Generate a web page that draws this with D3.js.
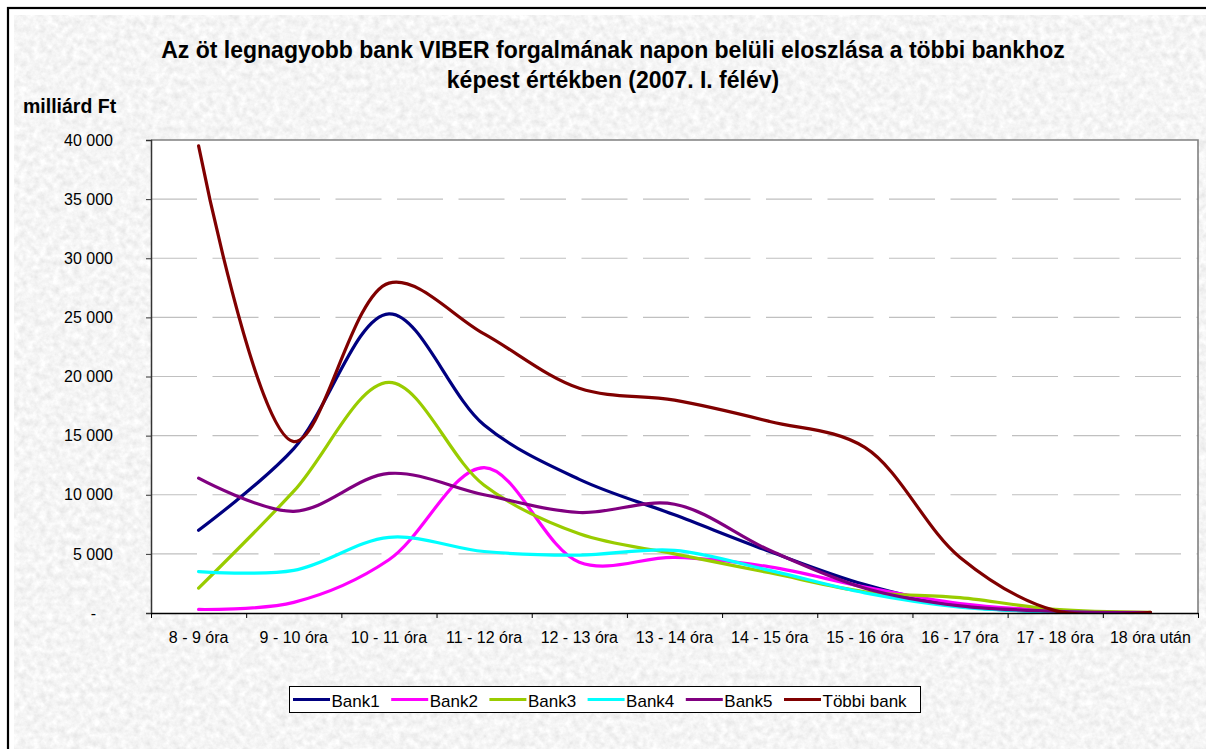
<!DOCTYPE html>
<html>
<head>
<meta charset="utf-8">
<script src="https://cdn.jsdelivr.net/npm/d3@7"></script>
<style>
  body { margin: 0; background: #fff; }
  svg { display: block; font-family: "Liberation Sans", Arial, sans-serif; }
</style>
</head>
<body>
<script>
// categories and series (milliárd Ft)
const categories = ["8 - 9 óra", "9 - 10 óra", "10 - 11 óra", "11 - 12 óra", "12 - 13 óra",
  "13 - 14 óra", "14 - 15 óra", "15 - 16 óra", "16 - 17 óra", "17 - 18 óra", "18 óra után"];
const bank1 = [7000, 13900, 25300, 15900, 11300, 8300, 5200, 2400, 600, 100, 30];
const bank2 = [300, 900, 4500, 12300, 4300, 4700, 3900, 2200, 800, 200, 40];
const bank3 = [2100, 10300, 19500, 10800, 6700, 5000, 3400, 1800, 1300, 300, 50];
const bank4 = [3500, 3600, 6400, 5200, 4900, 5300, 3600, 1700, 500, 100, 30];
const bank5 = [11400, 8600, 11800, 10000, 8500, 9200, 5300, 2100, 600, 150, 30];
const tobbi = [39500, 14500, 27900, 23600, 19000, 18000, 16200, 14000, 4700, 200, 50];
const yTicks = [0, 5000, 10000, 15000, 20000, 25000, 30000, 35000, 40000];

const series = [
  {name: "Bank1", color: "#000080", values: bank1},
  {name: "Bank2", color: "#ff00ff", values: bank2},
  {name: "Bank3", color: "#99cc00", values: bank3},
  {name: "Bank4", color: "#00ffff", values: bank4},
  {name: "Bank5", color: "#800080", values: bank5},
  {name: "Többi bank", color: "#800000", values: tobbi}
];

const W = 1206, H = 749;
const plot = {left: 151, right: 1198, top: 140, bottom: 613};

const svg = d3.select("body").append("svg")
    .attr("width", W)
    .attr("height", H);

// granite-like background
const defs = svg.append("defs");
const f = defs.append("filter").attr("id", "granite")
    .attr("x", 0).attr("y", 0).attr("width", "100%").attr("height", "100%");
f.append("feTurbulence").attr("type", "fractalNoise")
    .attr("baseFrequency", 0.15).attr("numOctaves", 4).attr("seed", 7);
f.append("feColorMatrix").attr("type", "matrix")
    .attr("values", "0.3 0 0 0 0.76  0.3 0 0 0 0.76  0.3 0 0 0 0.76  0 0 0 0 1");

defs.append("clipPath").attr("id", "plotclip")
  .append("rect")
    .attr("x", plot.left).attr("y", plot.top)
    .attr("width", plot.right - plot.left).attr("height", plot.bottom - plot.top);

svg.append("rect").attr("x", 0).attr("y", 0).attr("width", W).attr("height", H).attr("fill", "#fff");
svg.append("rect").attr("x", 14).attr("y", 15).attr("width", W - 14).attr("height", H - 15)
    .attr("fill", "#e6e6e6").attr("filter", "url(#granite)");
svg.append("rect").attr("x", 8).attr("y", 8).attr("width", W + 20).attr("height", H + 20)
    .attr("fill", "none").attr("stroke", "#000").attr("stroke-width", 2.2);

// title
const title = svg.append("text")
    .attr("text-anchor", "middle")
    .attr("font-weight", "bold")
    .attr("font-size", 23);
title.append("tspan").attr("x", 613).attr("y", 58)
    .text("Az öt legnagyobb bank VIBER forgalmának napon belüli eloszlása a többi bankhoz");
title.append("tspan").attr("x", 613).attr("y", 88)
    .text("képest értékben (2007. I. félév)");

svg.append("text")
    .attr("x", 23).attr("y", 113)
    .attr("font-weight", "bold").attr("font-size", 19.5)
    .text("milliárd Ft");

// scales
const x = d3.scaleBand().domain(categories).range([plot.left, plot.right]).padding(0);
const xEdge = d3.scaleLinear().domain([0, categories.length]).range([plot.left, plot.right]);
const y = d3.scaleLinear().domain([0, 40000]).range([plot.bottom, plot.top]);
const cx = c => x(c) + x.bandwidth() / 2;

// plot area
svg.append("rect")
    .attr("x", plot.left).attr("y", plot.top)
    .attr("width", plot.right - plot.left).attr("height", plot.bottom - plot.top)
    .attr("fill", "#fff");

svg.append("g").selectAll("line")
    .data(yTicks.filter(d => d > 0 && d < 40000))
    .join("line")
    .attr("x1", plot.left).attr("x2", plot.right)
    .attr("y1", d => y(d)).attr("y2", d => y(d))
    .attr("stroke", "#c0c0c0").attr("stroke-width", 1.2)
    .attr("stroke-dasharray", "46 15.5");

// plot border (top, right)
svg.append("path")
    .attr("d", `M${plot.left},${plot.top}H${plot.right}V${plot.bottom}`)
    .attr("fill", "none").attr("stroke", "#808080").attr("stroke-width", 1.6);

// lines, clipped to the plot area
const line = d3.line()
    .x((d, i) => cx(categories[i]))
    .y(d => y(d))
    .curve(d3.curveCatmullRom.alpha(0.5));

svg.append("g")
    .attr("clip-path", "url(#plotclip)")
  .selectAll("path")
    .data(series)
    .join("path")
    .attr("d", d => line(d.values))
    .attr("fill", "none")
    .attr("stroke", d => d.color)
    .attr("stroke-width", 3.2)
    .attr("stroke-linejoin", "round")
    .attr("stroke-linecap", "round");

// y axis
const fmt = d => d === 0 ? "-" : d3.format(",")(d).replace(/,/g, " ");
const yAxis = svg.append("g")
    .attr("transform", `translate(${plot.left},0)`)
    .call(d3.axisLeft(y).tickValues(yTicks).tickFormat(fmt).tickSize(5).tickPadding(33));
yAxis.selectAll("text").attr("font-size", 16).attr("font-family", null).attr("fill", "#000")
    .attr("dx", d => d === 0 ? -17 : 0);
yAxis.selectAll("line").attr("stroke", "#333");
yAxis.select(".domain").attr("stroke", "#333").attr("stroke-width", 1.5);

// x axis: tick marks on category edges, labels centred
const xTicks = svg.append("g")
    .attr("transform", `translate(0,${plot.bottom})`)
    .call(d3.axisBottom(xEdge).ticks(categories.length).tickFormat("").tickSize(5).tickSizeOuter(0));
xTicks.selectAll("line").attr("stroke", "#000");
xTicks.select(".domain").attr("stroke", "#000").attr("stroke-width", 1.5);

const xLabels = svg.append("g")
    .attr("transform", `translate(0,${plot.bottom})`)
    .call(d3.axisBottom(x).tickSize(0).tickPadding(18.6));
xLabels.select(".domain").remove();
xLabels.selectAll("text").attr("font-size", 16).attr("font-family", null).attr("fill", "#000");

// legend
const legend = svg.append("g");
legend.append("rect")
    .attr("x", 289.5).attr("y", 686.5).attr("width", 631).attr("height", 26)
    .attr("fill", "#fff").attr("stroke", "#000").attr("stroke-width", 1);
const item = legend.selectAll("g.item")
    .data(series)
    .join("g")
    .attr("class", "item")
    .attr("transform", (d, i) => `translate(${293 + i * 98.2},0)`);
item.append("line")
    .attr("x1", 0).attr("x2", 37).attr("y1", 699.5).attr("y2", 699.5)
    .attr("stroke", d => d.color).attr("stroke-width", 3.2);
item.append("text")
    .attr("x", 38.5).attr("y", 707)
    .attr("font-size", 17)
    .text(d => d.name);
</script>
</body>
</html>
